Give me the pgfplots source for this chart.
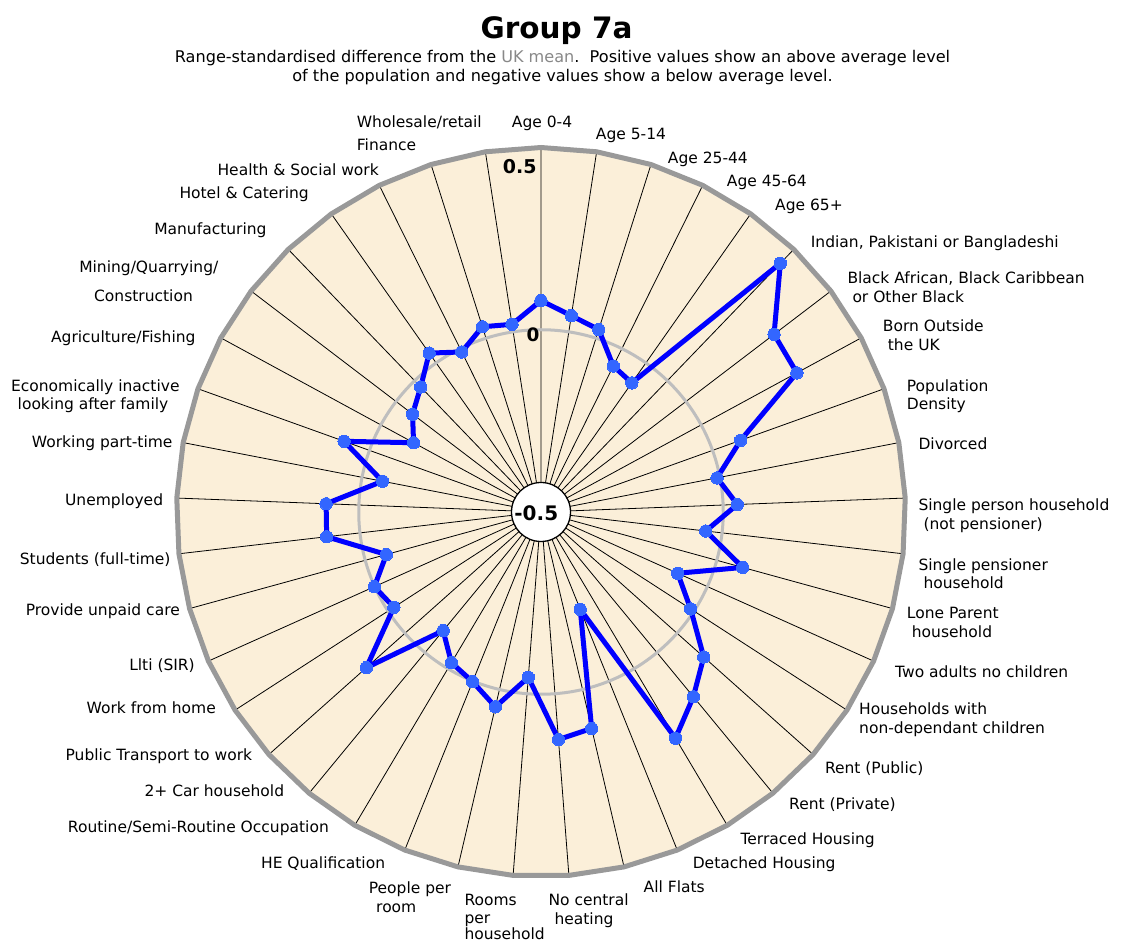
\documentclass[border=0pt]{standalone}
\usepackage{fontspec}
\setmainfont{DejaVu Sans}
\usepackage{pgfplots}
\pgfplotsset{compat=1.18}
\usepgfplotslibrary{polar}
\usepackage{pgfplotstable}

\definecolor{bgfill}{RGB}{251,239,217}
\definecolor{rim}{RGB}{153,153,153}
\definecolor{ringc}{RGB}{190,190,190}
\definecolor{mk}{RGB}{51,102,255}
\definecolor{ln}{RGB}{0,0,255}
\definecolor{subgray}{RGB}{136,136,136}

% k = category index (clockwise from top), v = range-standardised difference
\pgfplotstableread{
k v
0 0.080
1 0.045
2 0.025
3 -0.053
4 -0.067
5 0.447
6 0.304
7 0.299
8 0.082
9 -0.008
10 0.039
11 -0.045
12 0.074
13 -0.089
14 -0.011
15 0.098
16 0.157
17 0.222
18 -0.212
19 0.110
20 0.126
21 -0.045
22 0.049
23 0.002
24 -0.019
25 -0.078
26 0.142
27 -0.019
28 0.001
29 -0.060
30 0.092
31 0.090
32 -0.057
33 0.074
34 -0.102
35 -0.057
36 -0.024
37 0.033
38 -0.010
39 0.033
40 0.021
41 0.080
}\groupdata

\newcommand{\lblfont}{\fontsize{15.5}{19}\selectfont}
\newcommand{\LW}[3]{\node[anchor=base west, inner sep=0pt, font=\lblfont] at (#1,{942-#2-5.5}) {#3};}
\newcommand{\LE}[3]{\node[anchor=base east, inner sep=0pt, font=\lblfont] at (#1,{942-#2-5.5}) {#3};}
\newcommand{\LC}[3]{\node[anchor=base, inner sep=0pt, font=\lblfont] at (#1,{942-#2-5.5}) {#3};}

\begin{document}
\begin{tikzpicture}[x=1pt,y=1pt]
\begin{polaraxis}[
  at={(541pt,430pt)}, anchor=center,
  scale only axis, width=729pt, height=729pt,
  xmin=0, xmax=360, ymin=0, ymax=1,
  set layers, clip=false,
  axis line style={draw=none},
  xtick={2.1951,10.9756,19.7561,28.5366,37.3171,46.0976,54.8780,63.6585,72.4390,81.2195,90,98.7805,107.5610,116.3415,125.1220,133.9024,142.6829,151.4634,160.2439,169.0244,177.8049,186.5854,195.3659,204.1463,212.9268,221.7073,230.4878,239.2683,248.0488,256.8293,265.6098,274.3902,283.1707,291.9512,300.7317,309.5122,318.2927,327.0732,335.8537,344.6341,353.4146},
  ytick={0.5},
  xticklabels={}, yticklabels={},
  major tick length=0pt,
  xmajorgrids, ymajorgrids,
  major x grid style={black, line width=0.8pt},
  major y grid style={ringc, line width=3pt},
]
\addplot[on layer=axis background, fill=bgfill, draw=none]
  table[x expr={90-\thisrow{k}*360/41}, y expr=1] {\groupdata};
\addplot[draw=rim, line width=5pt, line cap=round, line join=round]
  table[x expr={90-\thisrow{k}*360/41}, y expr=1] {\groupdata};
\addplot[ln, line width=5pt, line join=round, mark=*, mark size=6.2pt,
  mark options={solid, fill=mk, draw=mk, line width=0pt}]
  table[x expr={90-\thisrow{k}*360/41}, y expr={\thisrow{v}+0.5}] {\groupdata};
\node[circle, fill=white, draw=black, line width=1.3pt, minimum size=59pt, inner sep=0pt] at (axis cs:0,0) {};
\end{polaraxis}

% radial scale labels
\node[anchor=base, inner sep=0pt, font=\fontsize{20}{24}\selectfont\bfseries] at (536.3,{942-521}) {-0.5};
\node[anchor=base, inner sep=0pt, font=\fontsize{18.5}{22}\selectfont\bfseries] at (533,{942-341.7}) {0};
\node[anchor=base, inner sep=0pt, font=\fontsize{19}{22}\selectfont\bfseries] at (519.7,{942-173.3}) {0.5};

% title
\node[anchor=base, inner sep=0pt, font=\fontsize{29.5}{34}\selectfont\bfseries] at (556.5,{942-38.3}) {Group 7a};
\node[anchor=base, inner sep=0pt, font=\fontsize{16.1}{19}\selectfont] at (562.5,{942-62.5}) {Range-standardised difference from the \textcolor{subgray}{UK mean}.\ \ Positive values show an above average level};
\node[anchor=base, inner sep=0pt, font=\fontsize{16.1}{19}\selectfont] at (562.5,{942-81.5}) {of the population and negative values show a below average level.};

% category labels, right side
\LW{511.7}{121.7}{Age 0-4}
\LW{595.7}{134.3}{Age 5-14}
\LW{667.7}{157.7}{Age 25-44}
\LW{726.7}{181}{Age 45-64}
\LW{775}{205.3}{Age 65+}
\LW{810.7}{241.7}{Indian, Pakistani or Bangladeshi}
\LW{847.3}{277.7}{Black African, Black Caribbean}
\LW{852.3}{296.7}{or Other Black}
\LW{882.7}{326}{Born Outside}
\LW{887.7}{345}{the UK}
\LW{906.7}{385.7}{Population}
\LW{906.7}{404.3}{Density}
\LW{918.3}{444}{Divorced}
\LW{918.3}{505}{Single person household}
\LW{923.3}{524.3}{(not pensioner)}
\LW{918.3}{565}{Single pensioner}
\LW{923.3}{583.3}{household}
\LW{906.7}{612.7}{Lone Parent}
\LW{911.7}{631.7}{household}
\LW{895}{672.3}{Two adults no children}
\LW{859}{709.3}{Households with}
\LW{859}{727.7}{non-dependant children}
\LW{824.8}{768.3}{Rent (Public)}
\LW{789}{804.3}{Rent (Private)}
\LW{740.4}{839.3}{Terraced Housing}
\LW{692.6}{863.3}{Detached Housing}
\LW{643.5}{886.7}{All Flats}
\LW{548.3}{900}{No central}
\LW{554.3}{919.3}{heating}
\LW{464.3}{900}{Rooms}
\LW{464.3}{918.3}{per}
\LW{464.3}{934.3}{household}
\LW{368.7}{888.3}{People per}
\LW{376}{906.7}{room}
\LW{260.9}{863.3}{HE Qualification}
% left side
\LE{329}{827.3}{Routine/Semi-Routine Occupation}
\LE{284.3}{791}{2+ Car household}
\LE{252.3}{755}{Public Transport to work}
\LE{216}{708.3}{Work from home}
\LE{195}{665}{Llti (SIR)}
\LE{180}{610}{Provide unpaid care}
\LE{170.7}{559.3}{Students (full-time)}
\LE{163.3}{500}{Unemployed}
\LE{172.7}{441.7}{Working part-time}
\LC{95.3}{386}{Economically inactive}
\LC{93}{404.3}{looking after family}
\LE{195.7}{337.3}{Agriculture/Fishing}
\LC{148.8}{267.3}{Mining/Quarrying/}
\LC{143.5}{296}{Construction}
\LE{266.7}{229.3}{Manufacturing}
\LE{309}{193.3}{Hotel \& Catering}
\LE{379}{170}{Health \& Social work}
\LW{356.7}{145}{Finance}
\LW{356.7}{121.7}{Wholesale/retail}

\pgfresetboundingbox
\path[use as bounding box] (0,0) rectangle (1121,942);
\end{tikzpicture}
\end{document}
